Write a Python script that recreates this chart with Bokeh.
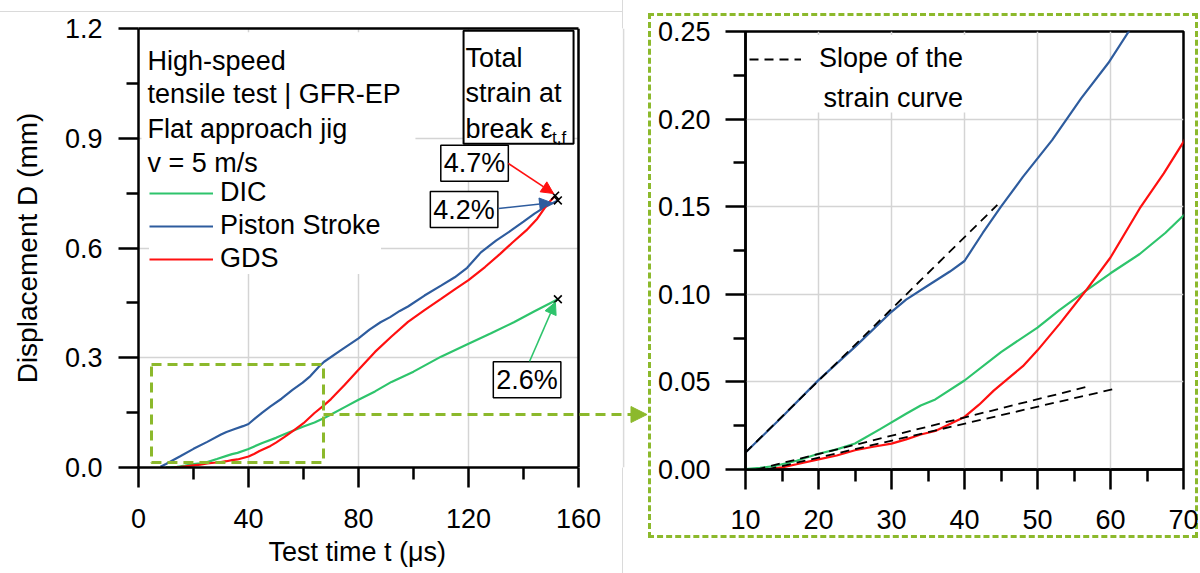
from bokeh.plotting import figure
from bokeh.models import (Range1d, Legend, LegendItem, Label, Arrow, NormalHead, Span,
                          FixedTicker, NumeralTickFormatter, LinearAxis, Title, Spacer)
from bokeh.layouts import row, column
from bokeh.embed import file_html
from bokeh.resources import INLINE
from bokeh.core.properties import value

FONT = "Liberation Sans"

# ---------------- data ----------------
t_dic = [10, 12, 14, 17, 20, 22.5, 25, 28.5, 32, 34, 36, 40, 45, 50, 53, 56.6, 60, 64,
         67.5, 70, 75, 80, 86, 92, 100, 110, 120, 128, 136.5, 144, 152.5]
d_dic = [0.0003, 0.001, 0.002, 0.005, 0.009, 0.0115, 0.0148, 0.0232, 0.0318, 0.0365, 0.040,
         0.0508, 0.067, 0.081, 0.091, 0.102, 0.112, 0.123, 0.135, 0.145, 0.165, 0.185,
         0.208, 0.234, 0.262, 0.303, 0.338, 0.366, 0.397, 0.427, 0.460]

t_piston = [8, 10, 15, 20, 25, 30, 32, 35, 38, 40, 42.5, 45, 48, 52, 56, 59.7, 62.5, 65.5,
            67.5, 73.5, 80, 84, 88, 91.5, 95, 98, 104, 110, 115, 119.5, 124.5, 130, 135.5,
            140, 144, 148, 152.5]
d_piston = [0.002, 0.0097, 0.030, 0.051, 0.070, 0.090, 0.097, 0.105, 0.113, 0.119, 0.135,
            0.150, 0.167, 0.188, 0.212, 0.232, 0.250, 0.275, 0.289, 0.320, 0.353, 0.377,
            0.397, 0.411, 0.428, 0.440, 0.470, 0.497, 0.520, 0.546, 0.588, 0.620, 0.648,
            0.672, 0.694, 0.713, 0.730]

t_gds = [13, 15, 17, 20, 22.5, 25, 27.5, 30, 32, 34, 36, 38, 40, 42, 44, 46, 48, 50, 53,
         56.6, 60, 64, 67.3, 70, 75, 80, 86, 92, 98, 104, 110, 115, 120, 126, 131.5, 136,
         141, 145, 148.5, 151.5]
d_gds = [0.0, 0.0012, 0.003, 0.0058, 0.008, 0.011, 0.013, 0.0148, 0.0172, 0.020, 0.022,
         0.026, 0.030, 0.037, 0.045, 0.052, 0.059, 0.068, 0.083, 0.102, 0.121, 0.149, 0.169,
         0.187, 0.226, 0.267, 0.316, 0.358, 0.398, 0.430, 0.461, 0.487, 0.512, 0.548, 0.584,
         0.615, 0.648, 0.680, 0.718, 0.743]

slope_piston_t = [10, 44.5]
slope_piston_d = [0.0097, 0.151]
slope_dic_t = [11.5, 56.6]
slope_dic_d = [0.0, 0.047]
slope_gds_t = [13, 60.5]
slope_gds_d = [0.0, 0.046]

series_names = ["DIC", "Piston Stroke", "GDS"]
break_strain = ["2.6%", "4.2%", "4.7%"]

left_xmax = 160
left_xticks = [0, 40, 80, 120, 160]
left_xminor = [20, 60, 100, 140]
left_yticks = [0.0, 0.3, 0.6, 0.9, 1.2]
left_yminor = [0.15, 0.45, 0.75, 1.05]
right_xticks = [10, 20, 30, 40, 50, 60, 70]
right_xminor = [15, 25, 35, 45, 55, 65]
right_yticks = [0.0, 0.05, 0.10, 0.15, 0.20, 0.25]
right_yminor = [0.025, 0.075, 0.125, 0.175, 0.225]

info_lines = ["High-speed", "tensile test | GFR-EP", "Flat approach jig", "v = 5 m/s"]
info_y = [1.112, 1.022, 0.926, 0.833]
total_lines = ["Total", "strain at", "break \u03b5"]
total_y = [1.120, 1.025, 0.926]

BLUE = "#2E5C9E"
RED = "#FF1010"
GREEN = "#2EC46C"
ZGREEN = "#8CB92C"
GRID = "#D4D4D4"
SEP = "#DADADA"


def style_axis(ax):
    ax.axis_line_width = 2.5
    ax.axis_line_color = "black"
    ax.major_tick_line_width = 2.5
    ax.minor_tick_line_width = 2.5
    ax.major_tick_out = 20
    ax.major_tick_in = 0
    ax.minor_tick_out = 12
    ax.minor_tick_in = 0
    ax.major_label_text_font = FONT
    ax.major_label_text_font_size = "27px"
    ax.major_label_text_color = "black"
    ax.axis_label_text_font = FONT
    ax.axis_label_text_font_style = "normal"
    ax.axis_label_text_color = "black"


def style(p, xt, xm, yt, ym, xfmt, yfmt):
    p.background_fill_color = "white"
    p.xaxis.ticker = FixedTicker(ticks=xt, minor_ticks=xm)
    p.yaxis.ticker = FixedTicker(ticks=yt, minor_ticks=ym)
    p.xaxis.formatter = NumeralTickFormatter(format=xfmt)
    p.yaxis.formatter = NumeralTickFormatter(format=yfmt)
    style_axis(p.xaxis[0])
    style_axis(p.yaxis[0])
    p.xaxis.major_label_standoff = 21
    p.yaxis.major_label_standoff = 16
    for g in (p.xgrid[0], p.ygrid[0]):
        g.grid_line_color = GRID
        g.grid_line_width = 1.5


# ---------------- left chart ----------------
# the frame runs on to the right edge of this figure so that the connecting arrow can be drawn
p1 = figure(width=648, height=573, x_range=Range1d(0, 185.45), y_range=Range1d(0, 1.2),
            output_backend="svg", toolbar_location=None,
            min_border_left=138, min_border_right=0, min_border_top=28, min_border_bottom=106)
style(p1, left_xticks, left_xminor, left_yticks, left_yminor, "0", "0.0")
p1.border_fill_alpha = 0.0
p1.outline_line_color = None
p1.xaxis.bounds = (0, left_xmax)
p1.yaxis.axis_label = "Displacement D (mm)"
p1.yaxis.axis_label_text_font_size = "28px"
p1.yaxis.axis_label_standoff = 19
# faint page-separator lines of the source picture (page background)
p1.styles = {
    "background-color": "white",
    "background-image": ("linear-gradient(to right, transparent 622px, %s 622px, %s 623.5px, transparent 623.5px),"
                         "linear-gradient(to bottom, transparent 11px, %s 11px, %s 12.5px, transparent 12.5px)")
                        % (SEP, SEP, SEP, SEP),
    "background-size": "100% 100%, 623px 100%",
    "background-repeat": "no-repeat",
}

# top edge of the chart box
top_axis = LinearAxis(ticker=FixedTicker(ticks=[]), bounds=(0, left_xmax),
                      major_label_text_font_size="0px")
style_axis(top_axis)
top_axis.major_tick_out = 0
top_axis.minor_tick_out = 0
p1.add_layout(top_axis, "above")
# right edge of the chart box
p1.add_layout(Span(location=left_xmax, dimension="height", line_color="black", line_width=2.5))

# x axis title, aligned on the chart box
p1.add_layout(Title(text="Test time t (\u03bcs)", align="left", offset=130, standoff=9,
                    text_font=FONT, text_font_size="27px", text_font_style="normal",
                    text_color="black"), "below")

# blank the part of the frame right of the chart box
p1.quad(left=[left_xmax], right=[185.45], bottom=[0], top=[1.2], fill_color="white", line_color=None)
p1.add_layout(Span(location=176.4, dimension="height", line_color=SEP, line_width=1.5))
# white box behind info text
p1.quad(left=[1.1], right=[100.7], bottom=[0.79], top=[1.19], fill_color="white", line_color=None)
# box "Total strain at break"
p1.quad(left=[118.2], right=[158.2], bottom=[0.885], top=[1.194], fill_color="white",
        line_color="black", line_width=2)

r_dic = p1.line(t_dic, d_dic, line_color=GREEN, line_width=2.2)
r_pis = p1.line(t_piston, d_piston, line_color=BLUE, line_width=2.2)
r_gds = p1.line(t_gds, d_gds, line_color=RED, line_width=2.2)

# zoom rectangle
p1.quad(left=[4.73], right=[67.27], bottom=[0.0137], top=[0.2814], fill_color=None,
        line_color=ZGREEN, line_width=3, line_dash="10 6")

# break markers at the last point of each series
p1.scatter(x=[t_dic[-1], t_piston[-1], t_gds[-1]], y=[d_dic[-1], d_piston[-1], d_gds[-1]],
           marker="x", size=11, line_color="black", line_width=1.6)

p1.text(x=[3.3] * len(info_lines), y=info_y, text=info_lines, text_font=value(FONT),
        text_font_size="27px", text_baseline="alphabetic", text_align="left", text_color="black")
p1.text(x=[118.9] * len(total_lines), y=total_y, text=total_lines, text_font=value(FONT),
        text_font_size="27px", text_baseline="alphabetic", text_align="left", text_color="black")
p1.text(x=[150.4], y=[0.902], text=["t,f"], text_font=value(FONT), text_font_size="17px",
        text_baseline="alphabetic", text_align="left", text_color="black")

legend1 = Legend(items=[LegendItem(label=series_names[0], renderers=[r_dic]),
                        LegendItem(label=series_names[1], renderers=[r_pis]),
                        LegendItem(label=series_names[2], renderers=[r_gds])],
                 location=(11, 193), orientation="vertical",
                 glyph_width=64, glyph_height=30, label_height=30, label_standoff=7, spacing=2,
                 padding=6, margin=0, border_line_color=None, background_fill_color="white",
                 background_fill_alpha=1.0, label_text_font=FONT, label_text_font_size="27px",
                 label_text_color="black")
p1.add_layout(legend1)

lab_kw = dict(text_align="center", text_baseline="middle", text_font=FONT,
              text_font_size="27px", text_color="black", border_line_color="black",
              border_line_width=1.5, background_fill_color="white", padding=3)
p1.add_layout(Label(x=122.2, y=0.832, text=break_strain[2], **lab_kw))
p1.add_layout(Label(x=118.4, y=0.705, text=break_strain[1], **lab_kw))
p1.add_layout(Label(x=141.3, y=0.240, text=break_strain[0], **lab_kw))

p1.add_layout(Arrow(x_start=134.5, y_start=0.831, x_end=150.9, y_end=0.749, line_color=RED,
                    line_width=1.5, end=NormalHead(size=12, fill_color=RED, line_color=RED)))
p1.add_layout(Arrow(x_start=130.9, y_start=0.708, x_end=150.2, y_end=0.724, line_color=BLUE,
                    line_width=1.5, end=NormalHead(size=12, fill_color=BLUE, line_color=BLUE)))
p1.add_layout(Arrow(x_start=142.2, y_start=0.290, x_end=151.6, y_end=0.452, line_color=GREEN,
                    line_width=1.5, end=NormalHead(size=12, fill_color=GREEN, line_color=GREEN)))

# connecting arrow to the zoomed chart
p1.add_layout(Arrow(x_start=67.27, y_start=0.1448, x_end=184.9, y_end=0.1448,
                    line_color=ZGREEN, line_width=3, line_dash="10 6",
                    end=NormalHead(size=16, fill_color=ZGREEN, line_color=ZGREEN,
                                   line_dash="solid")))

# ---------------- right chart (zoom) ----------------
p2 = figure(width=550, height=525, x_range=Range1d(10, 70), y_range=Range1d(0, 0.25),
            output_backend="svg", toolbar_location=None,
            min_border_left=97, min_border_right=15, min_border_top=18, min_border_bottom=69)
style(p2, right_xticks, right_xminor, right_yticks, right_yminor, "0", "0.00")
p2.outline_line_color = "black"
p2.outline_line_width = 2.5
p2.border_fill_alpha = 0.0
p2.xaxis.major_label_standoff = 20
p2.yaxis.major_label_standoff = 15
# dashed frame around the zoomed chart
p2.styles = {"outline": "3px dashed " + ZGREEN, "outline-offset": "-3px"}

p2.quad(left=[10.4], right=[41.9], bottom=[0.2038], top=[0.248], fill_color="white", line_color=None)

p2.line(t_dic, d_dic, line_color=GREEN, line_width=2.2)
p2.line(t_piston, d_piston, line_color=BLUE, line_width=2.2)
p2.line(t_gds, d_gds, line_color=RED, line_width=2.2)

r_sl = p2.line(slope_piston_t, slope_piston_d, line_color="black", line_width=1.8, line_dash="9 6")
p2.line(slope_dic_t, slope_dic_d, line_color="black", line_width=1.8, line_dash="9 6")
p2.line(slope_gds_t, slope_gds_d, line_color="black", line_width=1.8, line_dash="9 6")

p2.text(x=[20.68], y=[0.2118], text=["strain curve"], text_font=value(FONT),
        text_font_size="27px", text_baseline="alphabetic", text_align="left", text_color="black")

legend2 = Legend(items=[LegendItem(label="Slope of the", renderers=[r_sl])],
                 location=(4, 395), glyph_width=52, glyph_height=30, label_height=30,
                 label_standoff=18, padding=4, margin=0, border_line_color=None,
                 background_fill_color="white", background_fill_alpha=1.0,
                 label_text_font=FONT, label_text_font_size="27px", label_text_color="black")
p2.add_layout(legend2)

layout = row(p1, column(Spacer(width=550, height=13), p2))
open("out.html", "w").write(file_html(layout, INLINE))
